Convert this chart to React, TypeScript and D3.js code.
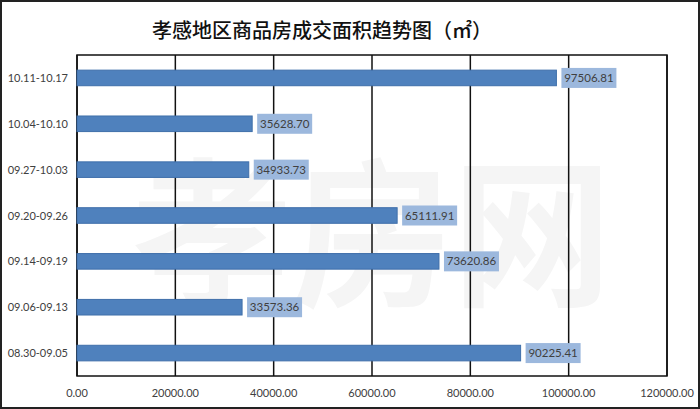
import React from "react";
import * as d3 from "d3";

const categories = ["10.11-10.17", "10.04-10.10", "09.27-10.03", "09.20-09.26", "09.14-09.19", "09.06-09.13", "08.30-09.05"];
const values = [97506.81, 35628.70, 34933.73, 65111.91, 73620.86, 33573.36, 90225.41];
const ticks = [0, 20000, 40000, 60000, 80000, 100000, 120000];
const title = "孝感地区商品房成交面积趋势图（㎡）";
const watermark = "孝房网";

const W = 700, H = 409;
const M = { left: 77, right: 33, top: 55, bottom: 33 };

export default function App() {
  const x = d3.scaleLinear().domain([0, 120000]).range([M.left, W - M.right]);
  const y = d3.scaleBand<string>().domain(categories).range([M.top, H - M.bottom]).paddingInner(0.66).paddingOuter(0.33);
  const font = "Lato, 'Liberation Sans', sans-serif";
  return (
    <svg width={W} height={H} style={{ position: "absolute", left: 0, top: 0, background: "#fff" }}>
      <rect x={1} y={1} width={W - 2} height={H - 2} fill="#fff" stroke="#222" strokeWidth={2} />
      <text x={372} y={294} textAnchor="middle" fontSize={160} fontWeight="bold" fill="#f5f5f5" fontFamily="'Noto Sans CJK SC', sans-serif">{watermark}</text>
      <text x={322} y={38} textAnchor="middle" fontSize={20} fontWeight={500} fill="#111" fontFamily="'Noto Sans CJK SC', sans-serif">{title}</text>
      {ticks.map((t) => (
        <g key={t}>
          <line x1={x(t)} x2={x(t)} y1={M.top} y2={H - M.bottom} stroke="#111" strokeWidth={1.5} />
          <text x={x(t)} y={397} textAnchor="middle" fontSize={11} fill="#404040" fontFamily={font}>{d3.format(".2f")(t)}</text>
        </g>
      ))}
      <rect x={M.left} y={M.top} width={W - M.right - M.left} height={H - M.bottom - M.top} fill="none" stroke="#111" strokeWidth={1.5} />
      {categories.map((c, i) => {
        const yy = y(c)!;
        const bw = y.bandwidth();
        const xe = x(values[i]);
        const label = values[i].toFixed(2);
        return (
          <g key={c}>
            <rect x={M.left} y={yy} width={xe - M.left} height={bw} fill="#4F81BD" stroke="#3F6FAA" strokeWidth={1} />
            <rect x={xe + 5} y={yy + bw / 2 - 10} width={55} height={20} fill="#9CB8DD" />
            <text x={xe + 32.5} y={yy + bw / 2 + 4} textAnchor="middle" fontSize={11.5} fill="#404040" fontFamily={font}>{label}</text>
            <text x={68} y={yy + bw / 2 + 4} textAnchor="end" fontSize={11} fill="#404040" fontFamily={font}>{c}</text>
          </g>
        );
      })}
    </svg>
  );
}
